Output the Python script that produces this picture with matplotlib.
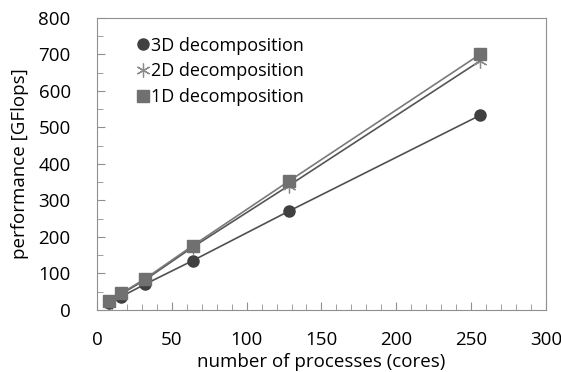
import matplotlib
matplotlib.use("Agg")
import matplotlib.pyplot as plt
from matplotlib.ticker import MultipleLocator

plt.rcParams["font.family"] = ["Open Sans", "DejaVu Sans"]

processes = [8, 16, 32, 64, 128, 256]
perf_3d = [20, 36, 70, 135, 270, 533]
perf_2d = [22, 43, 82, 172, 340, 682]
perf_1d = [24, 45, 85, 176, 352, 700]

fig = plt.figure(figsize=(5.61, 3.72), dpi=100)
ax = fig.add_axes([0.173, 0.167, 0.8, 0.785])

ax.plot(processes, perf_1d, color="#7a7a7a", linewidth=1.2, marker="s", markersize=8,
        markerfacecolor="#707070", markeredgecolor="#707070", zorder=3)
ax.plot(processes, perf_2d, color="#555555", linewidth=1.2, zorder=2)
ax.plot(processes, perf_2d, linestyle="none", marker=(6, 2, 0), markersize=10,
        markeredgecolor="#8a8a8a", markeredgewidth=0.9, zorder=2)
ax.plot(processes, perf_3d, color="#505050", linewidth=1.2, marker="o", markersize=8,
        markerfacecolor="#404040", markeredgecolor="#404040", zorder=2)

# legend proxies in the reference order
h3 = plt.Line2D([], [], linestyle="none", marker="o", markersize=8, color="#404040")
h2 = plt.Line2D([], [], linestyle="none", marker=(6, 2, 0), markersize=10,
                markeredgecolor="#8a8a8a", markeredgewidth=0.9)
h1 = plt.Line2D([], [], linestyle="none", marker="s", markersize=8, color="#707070")
ax.legend([h3, h2, h1], ["3D decomposition", "2D decomposition", "1D decomposition"],
          loc="upper left", bbox_to_anchor=(0.075, 0.96), frameon=False, fontsize=13,
          handlelength=0.6, handletextpad=0.1, labelspacing=0.42, borderaxespad=0)

ax.set_xlim(0, 300)
ax.set_ylim(0, 800)
ax.xaxis.set_major_locator(MultipleLocator(50))
ax.xaxis.set_minor_locator(MultipleLocator(10))
ax.yaxis.set_major_locator(MultipleLocator(100))
ax.yaxis.set_minor_locator(MultipleLocator(50))
ax.tick_params(which="both", direction="in", color="#909090", labelsize=13.5, pad=15)
ax.tick_params(which="major", length=6)
ax.tick_params(which="minor", length=4)
ax.tick_params(axis="y", pad=19)
for spine in ax.spines.values():
    spine.set_color("#909090")

ax.set_xlabel("number of processes (cores)", fontsize=13.5, labelpad=3)
ax.set_ylabel("performance [GFlops]", fontsize=13.5, labelpad=7)

fig.savefig("out.png", dpi=100)
